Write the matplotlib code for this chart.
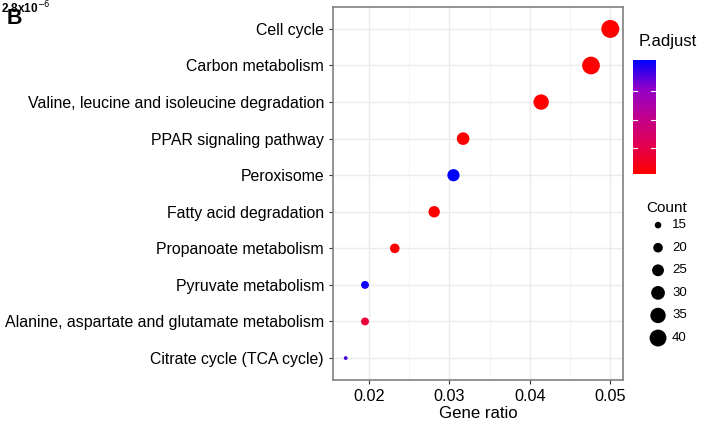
import numpy as np
import matplotlib.pyplot as plt
from matplotlib.colors import LinearSegmentedColormap, Normalize
from matplotlib.colorbar import ColorbarBase

plt.rcParams["font.family"] = ["Liberation Sans", "DejaVu Sans"]

pathways = [
    "Cell cycle",
    "Carbon metabolism",
    "Valine, leucine and isoleucine degradation",
    "PPAR signaling pathway",
    "Peroxisome",
    "Fatty acid degradation",
    "Propanoate metabolism",
    "Pyruvate metabolism",
    "Alanine, aspartate and glutamate metabolism",
    "Citrate cycle (TCA cycle)",
]
gene_ratio = [0.0500, 0.0476, 0.0414, 0.0317, 0.0305, 0.0281, 0.0232, 0.0195, 0.0195, 0.0171]
counts = [44, 43, 35, 27, 26, 24, 20, 17, 17, 12]
p_adjust = [1.1e-6, 1.1e-6, 1.1e-6, 1.1e-6, 5.1e-6, 1.1e-6, 1.1e-6, 5.0e-6, 1.8e-6, 4.6e-6]

legend_counts = [15, 20, 25, 30, 35, 40]
x_ticks = [0.02, 0.03, 0.04, 0.05]
cbar_ticks = [2e-6, 3e-6, 4e-6]


def size_of(c):
    # marker area grows linearly with count
    return np.maximum(5.01 * np.asarray(c, dtype=float) - 52.7, 4.0)


cmap = LinearSegmentedColormap.from_list(
    "padj", [(0, "#FF0000"), (0.25, "#E2004F"), (0.5, "#C1008F"), (0.75, "#9000C8"), (1, "#0000FF")]
)
norm = Normalize(vmin=1.08e-6, vmax=5.1e-6)

fig = plt.figure(figsize=(7.2, 4.26), dpi=100)
ax = fig.add_axes([0.4625, 0.108, 0.403, 0.8756])

y = np.arange(len(pathways))[::-1]
ax.scatter(gene_ratio, y, s=size_of(counts), c=p_adjust, cmap=cmap, norm=norm,
           edgecolors="none", zorder=3)

ax.set_xlim(0.01552, 0.0516)
ax.set_ylim(-0.6, len(pathways) - 0.4)
ax.set_yticks(y, pathways)
ax.set_xticks(x_ticks, [f"{t:.2f}" for t in x_ticks])
ax.set_xticks([0.025, 0.035, 0.045], minor=True)
ax.grid(which="major", color="#ebebeb", linewidth=1.0, zorder=0)
ax.grid(which="minor", axis="x", color="#f2f2f2", linewidth=0.6, zorder=0)
ax.set_axisbelow(True)
for sp in ax.spines.values():
    sp.set_color("#808080")
    sp.set_linewidth(1.2)
ax.tick_params(axis="y", colors="#333333", labelcolor="black", labelsize=11.4, length=3, width=0.8)
ax.tick_params(axis="x", colors="#333333", labelcolor="black", labelsize=11.7, length=3, width=0.8)
ax.tick_params(axis="x", which="minor", length=0)
ax.set_xlabel("Gene ratio", fontsize=12.1, labelpad=1.5)

# colour bar for P.adjust
cax = fig.add_axes([0.879, 0.5915, 0.032, 0.2676])
cb = ColorbarBase(cax, cmap=cmap, norm=norm, ticks=cbar_ticks)
cb.outline.set_visible(False)
cax.tick_params(length=0, labelright=False)
for t in cbar_ticks:
    cax.plot([0, 0.2], [t, t], color="white", lw=0.8, transform=cax.get_yaxis_transform())
    cax.plot([0.8, 1], [t, t], color="white", lw=0.8, transform=cax.get_yaxis_transform())
fig.text(0.8875, 0.902, "P.adjust", fontsize=12, va="center", ha="left")

# size legend for Count
lax = fig.add_axes([0.9006, 0.18, 0.08, 0.318])
ly = np.arange(len(legend_counts))[::-1]
lax.scatter([0] * len(legend_counts), ly, s=size_of(legend_counts), color="black", edgecolors="none")
for yy, c in zip(ly, legend_counts):
    lax.text(0.73, yy, str(c), fontsize=9.5, va="center", ha="left")
lax.set_xlim(-0.5, 2.5)
lax.set_ylim(-0.5, len(legend_counts) - 0.5)
lax.axis("off")
fig.text(0.897, 0.512, "Count", fontsize=11, va="center", ha="left")

fig.text(0.009, 0.957, "B", fontsize=15.5, fontweight="bold", va="center", ha="left")
fig.text(0.001, 0.982, "2.8x10$^{-6}$", fontsize=8.5, fontweight="bold", va="center", ha="left")

fig.savefig("out.png", dpi=100)
